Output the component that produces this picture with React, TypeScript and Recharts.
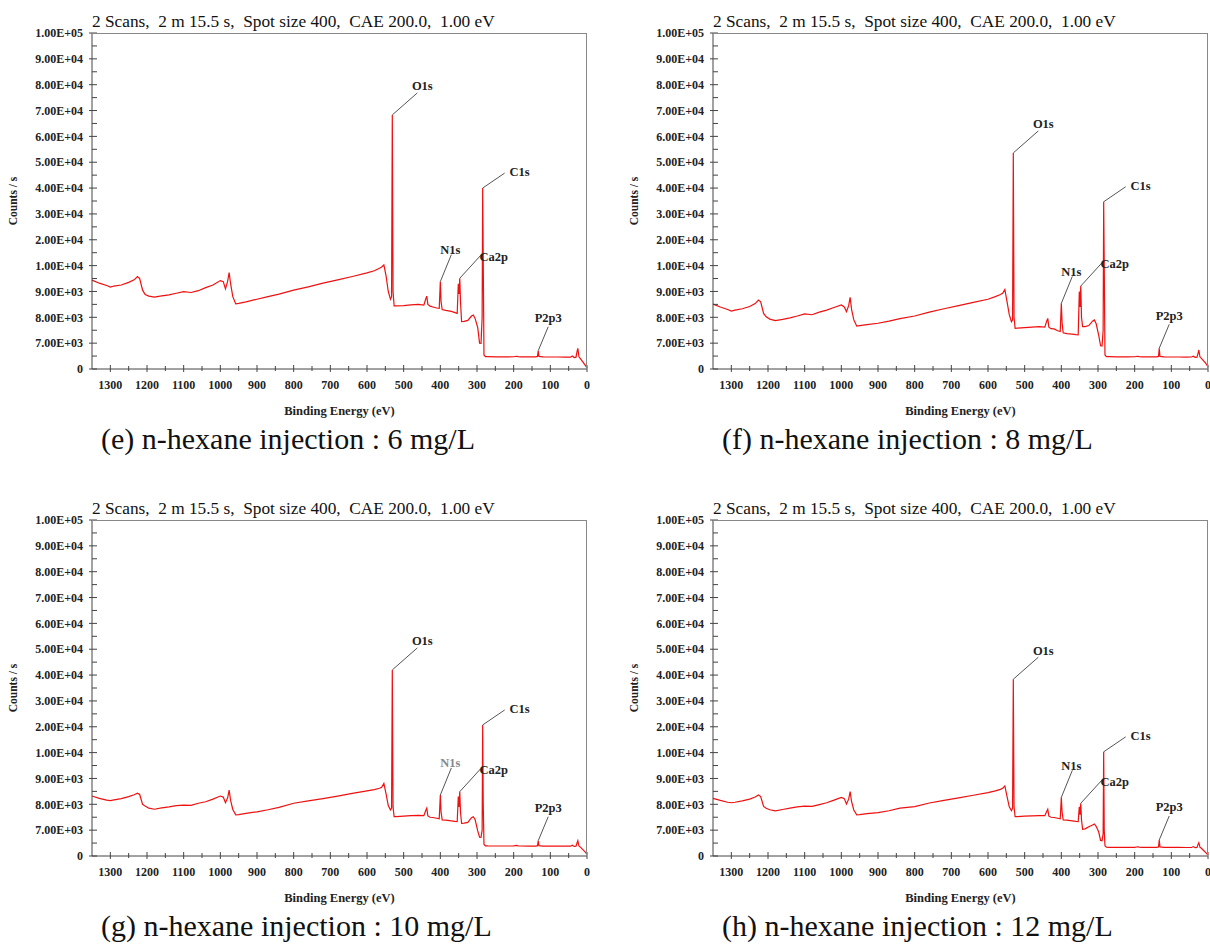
import React from 'react';
import { LineChart, Line, XAxis, YAxis, ReferenceDot } from 'recharts';

// binding energy grid (eV), shared by all four spectra
const energy = [
  1350, 1330, 1310, 1300, 1290, 1270, 1250, 1235, 1226, 1220,
  1212, 1205, 1195, 1180, 1160, 1140, 1120, 1100, 1080, 1060,
  1040, 1020, 1000, 992, 986, 980, 976, 972, 966, 958,
  950, 930, 900, 870, 840, 800, 760, 720, 680, 640,
  600, 580, 566, 560, 554, 548, 542, 536, 533, 531,
  529, 526, 520, 500, 480, 460, 445, 440, 437, 434,
  428, 420, 410, 403, 400, 398, 395, 385, 370, 360,
  354, 351, 349, 347, 345, 342, 335, 325, 315, 310,
  305, 298, 293, 289, 286, 284.5, 283, 281, 277, 270,
  250, 220, 200, 192, 188, 180, 160, 140, 135, 133,
  131, 120, 100, 80, 60, 45, 40, 35, 30, 27,
  25, 22, 18, 12, 6, 0,
];

// counts / s
const counts6 = [
  9440, 9320, 9230, 9170, 9210, 9250, 9350, 9450, 9580, 9500,
  9050, 8880, 8820, 8780, 8830, 8870, 8930, 8990, 8960, 9030,
  9150, 9250, 9420, 9380, 9100, 9400, 9730, 9300, 8800, 8520,
  8540, 8600, 8700, 8800, 8900, 9050, 9180, 9320, 9450, 9580,
  9720, 9800, 9900, 9950, 10300, 9600, 9000, 8700, 8800, 68300,
  9000, 8440, 8440, 8450, 8480, 8500, 8470, 8700, 8820, 8500,
  8430, 8400, 8360, 8350, 9380, 8600, 8300, 8270, 8230, 8180,
  8150, 9300, 8900, 9510, 8600, 7830, 7840, 7880, 8050, 8090,
  7950, 7600, 7000, 6960, 8000, 40000, 12000, 3800, 3350, 3330,
  3300, 3300, 3320, 3450, 3350, 3300, 3300, 3300, 3400, 4950,
  3400, 3280, 3250, 3250, 3230, 3200, 3500, 3100, 3200, 4800,
  5600, 3300, 2800, 2000, 1200, 270,
];

const counts8 = [
  8510, 8400, 8300, 8240, 8280, 8330, 8420, 8530, 8670, 8600,
  8150, 8020, 7930, 7870, 7920, 7980, 8050, 8130, 8100, 8200,
  8280, 8380, 8480, 8400, 8220, 8450, 8770, 8300, 7900, 7660,
  7680, 7720, 7770, 7850, 7950, 8050, 8200, 8330, 8450, 8580,
  8700, 8800, 8880, 8930, 9080, 8600, 8100, 7830, 7900, 53600,
  8000, 7570, 7580, 7600, 7620, 7640, 7620, 7850, 7960, 7620,
  7560, 7550, 7480, 7450, 8540, 7800, 7400, 7370, 7350, 7330,
  7320, 9000, 8400, 9210, 8000, 7640, 7640, 7680, 7850, 7900,
  7750, 7300, 6300, 6230, 7500, 34700, 10000, 3800, 3350, 3330,
  3300, 3300, 3320, 3450, 3350, 3300, 3300, 3300, 3400, 5600,
  3400, 3280, 3250, 3250, 3230, 3250, 3450, 3150, 3200, 4300,
  5150, 3300, 2900, 2200, 1500, 620,
];

const counts10 = [
  8320, 8230, 8160, 8140, 8170, 8220, 8300, 8370, 8430, 8380,
  8000, 7930, 7850, 7810, 7860, 7900, 7950, 7970, 7960, 8040,
  8100, 8200, 8320, 8280, 8060, 8250, 8550, 8150, 7800, 7590,
  7600, 7650, 7710, 7790, 7880, 8040, 8130, 8220, 8320, 8420,
  8520, 8570, 8620, 8660, 8810, 8400, 7950, 7780, 7850, 42000,
  7900, 7520, 7520, 7540, 7560, 7570, 7560, 7750, 7850, 7550,
  7500, 7490, 7460, 7440, 8360, 7700, 7400, 7390, 7360, 7340,
  7330, 8300, 7900, 8490, 7700, 7260, 7270, 7300, 7480, 7520,
  7400, 6800, 5100, 5050, 7000, 20700, 8000, 3200, 2750, 2720,
  2710, 2710, 2720, 2850, 2750, 2710, 2700, 2700, 2800, 4140,
  2800, 2690, 2680, 2670, 2660, 2650, 2900, 2600, 2650, 3600,
  4140, 2700, 2400, 1800, 1200, 540,
];

const counts12 = [
  8230, 8150, 8080, 8060, 8080, 8130, 8200, 8280, 8360, 8300,
  7920, 7850, 7790, 7750, 7800, 7850, 7900, 7930, 7920, 7990,
  8060, 8160, 8270, 8220, 8010, 8200, 8490, 8100, 7780, 7590,
  7600, 7640, 7680, 7750, 7850, 7910, 8050, 8150, 8250, 8350,
  8450, 8520, 8580, 8620, 8710, 8300, 7900, 7750, 7850, 38400,
  7900, 7520, 7520, 7540, 7550, 7560, 7560, 7720, 7810, 7540,
  7500, 7490, 7460, 7440, 8270, 7700, 7400, 7390, 7360, 7340,
  7330, 7900, 7600, 8040, 7400, 7030, 7050, 7130, 7200, 7240,
  7150, 6500, 4200, 4140, 6000, 10300, 7000, 2800, 2380, 2360,
  2360, 2350, 2360, 2500, 2400, 2350, 2340, 2340, 2450, 4330,
  2450, 2330, 2320, 2310, 2300, 2300, 2550, 2250, 2300, 3200,
  3600, 2400, 2100, 1500, 900, 270,
];

// the y axis is drawn with equally spaced, non-linear ticks
const yTickValues = [0, 7000, 8000, 9000, 10000, 20000, 30000, 40000, 50000, 60000, 70000, 80000, 90000, 100000];
const yTickLabels = ['0', '7.00E+03', '8.00E+03', '9.00E+03', '1.00E+04', '2.00E+04', '3.00E+04', '4.00E+04', '5.00E+04', '6.00E+04', '7.00E+04', '8.00E+04', '9.00E+04', '1.00E+05'];
const xTickValues = [1300, 1250, 1200, 1150, 1100, 1050, 1000, 950, 900, 850, 800, 750, 700, 650, 600, 550, 500, 450, 400, 350, 300, 250, 200, 150, 100, 50, 0];

const peakNames = ['O1s', 'C1s', 'N1s', 'Ca2p', 'P2p3'];
const peakEnergies = [531, 284.5, 400, 347, 133];

const captions = [
  '(e) n-hexane injection : 6 mg/L',
  '(f) n-hexane injection : 8 mg/L',
  '(g) n-hexane injection : 10 mg/L',
  '(h) n-hexane injection : 12 mg/L',
];
const scanTitle = '2 Scans,  2 m 15.5 s,  Spot size 400,  CAE 200.0,  1.00 eV';

const serif = '"Liberation Serif", "Times New Roman", serif';

const toIdx = (v: number) => {
  for (let i = 1; i < yTickValues.length; i++) {
    if (v <= yTickValues[i]) {
      const a = yTickValues[i - 1];
      const b = yTickValues[i];
      return i - 1 + (v - a) / (b - a);
    }
  }
  return yTickValues.length - 1;
};

const yTicks: number[] = [];
for (let i = 0; i <= 26; i++) yTicks.push(i / 2);

// leader line end (l) and text centre (t), relative to the peak top
const calloutOffset: Record<string, { lx: number; ly: number; tx: number; ty: number }> = {
  O1s: { lx: 25, ly: -22, tx: 30, ty: -29 },
  C1s: { lx: 22, ly: -15, tx: 37, ty: -16 },
  N1s: { lx: 11, ly: -27, tx: 10, ty: -32 },
  Ca2p: { lx: 21, ly: -23, tx: 34, ty: -22 },
  P2p3: { lx: 10, ly: -24, tx: 10, ty: -33 },
};

const YTick = ({ x, y, payload }: any) => {
  const v = payload.value;
  const major = Number.isInteger(v);
  return (
    <g>
      <line x1={major ? x - 3 : x} x2={x + 5} y1={y} y2={y} stroke="#444" strokeWidth={1} />
      {major && (
        <text x={x - 9} y={y} dy="0.35em" textAnchor="end" fontSize={12} fontWeight="bold" fontFamily={serif} fill="#222">
          {yTickLabels[v]}
        </text>
      )}
    </g>
  );
};

const XTick = ({ x, y, payload }: any) => {
  const v = payload.value;
  const major = v % 100 === 0;
  return (
    <g>
      <line x1={x} x2={x} y1={major ? y - 4 : y - 3} y2={major ? y + 3 : y + 2} stroke="#444" strokeWidth={1} />
      {major && (
        <text x={x} y={y + 20} textAnchor="middle" fontSize={12} fontWeight="bold" fontFamily={serif} fill="#222">
          {v}
        </text>
      )}
    </g>
  );
};

const Callout = ({ cx, cy, name, color }: any) => {
  const o = calloutOffset[name];
  return (
    <g>
      <line x1={cx} y1={cy} x2={cx + o.lx} y2={cy + o.ly} stroke="#555" strokeWidth={1} />
      <text x={cx + o.tx} y={cy + o.ty} dy="0.35em" textAnchor="middle" fontSize={12.5} fontWeight="bold" fontFamily={serif} fill={color}>
        {name}
      </text>
    </g>
  );
};

interface PanelProps {
  counts: number[];
  caption: string;
  left: number;
  top: number;
  greyLabels?: string[];
}

const Panel = ({ counts, caption, left, top, greyLabels = [] }: PanelProps) => {
  const rows = energy.map((e, i) => ({ e, y: toIdx(counts[i]) }));
  return (
    <div style={{ position: 'absolute', left, top, width: 600, height: 487 }}>
      <LineChart width={600} height={400} data={rows} margin={{ top: 33, right: 13, left: 0, bottom: 0 }}>
        <XAxis
          dataKey="e"
          type="number"
          domain={[0, 1350]}
          reversed
          ticks={xTickValues}
          interval={0}
          height={31}
          tickSize={0}
          tickMargin={0}
          tickLine={false}
          tick={<XTick />}
          axisLine={{ stroke: '#444' }}
        />
        <YAxis
          type="number"
          domain={[0, 13]}
          ticks={yTicks}
          interval={0}
          width={92}
          tickSize={0}
          tickMargin={0}
          tickLine={false}
          tick={<YTick />}
          axisLine={{ stroke: '#444' }}
        />
        <Line type="linear" dataKey="y" stroke="#f01010" strokeWidth={1.2} dot={false} isAnimationActive={false} />
        {peakNames.map((name, k) => {
          const idx = energy.indexOf(peakEnergies[k]);
          return (
            <ReferenceDot
              key={name}
              x={peakEnergies[k]}
              y={toIdx(counts[idx])}
              r={0}
              shape={(p: any) => <Callout {...p} name={name} color={greyLabels.includes(name) ? '#888' : '#222'} />}
            />
          );
        })}
      </LineChart>
      <div style={{ position: 'absolute', left: 92, top: 33, width: 495, height: 336, borderTop: '1px solid #888', borderRight: '1px solid #888', boxSizing: 'border-box', pointerEvents: 'none' }} />
      <svg width={600} height={487} style={{ position: 'absolute', left: 0, top: 0, pointerEvents: 'none' }}>
        <text x={92} y={27} fontSize={17.3} fontFamily={serif} fill="#111" style={{ whiteSpace: 'pre' }}>
          {scanTitle}
        </text>
        <text transform="translate(13,201) rotate(-90)" textAnchor="middle" dy="0.35em" fontSize={11.5} fontWeight="bold" fontFamily={serif} fill="#222">
          Counts / s
        </text>
        <text x={339.5} y={415} textAnchor="middle" fontSize={12.5} fontWeight="bold" fontFamily={serif} fill="#222">
          Binding Energy (eV)
        </text>
        <text x={101} y={449} fontSize={30} fontFamily={serif} fill="#111">
          {caption}
        </text>
      </svg>
    </div>
  );
};

export default function App() {
  return (
    <div style={{ position: 'relative', width: 1210, height: 945, overflow: 'hidden', background: '#fff' }}>
      <style>{'body{margin:0}'}</style>
      <Panel counts={counts6} caption={captions[0]} left={0} top={0} />
      <Panel counts={counts8} caption={captions[1]} left={621} top={0} />
      <Panel counts={counts10} caption={captions[2]} left={0} top={487} greyLabels={['N1s']} />
      <Panel counts={counts12} caption={captions[3]} left={621} top={487} />
    </div>
  );
}
